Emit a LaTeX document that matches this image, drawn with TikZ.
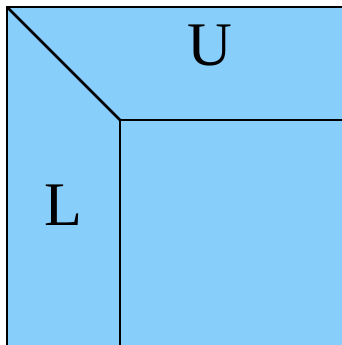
\documentclass[tikz,border=0pt]{standalone}
\usepackage{fontspec}
\setmainfont{Liberation Serif}
\usepackage{tikz}
\usepackage{xcolor}
\definecolor{SkyFill}{HTML}{87CEFA}

\begin{document}
\begin{tikzpicture}[x=1pt, y=-1pt, line width=2.5pt]
        \useasboundingbox (0,0) rectangle (342,345);

        % Matrix block
        \fill[SkyFill] (7,7) rectangle (342,345);
        \draw (7,345) -- (7,7) -- (342,7);

        % Split into L and U
        \coordinate (corner) at (7,7);
        \coordinate (pivot) at (120,120);
        \draw (corner) -- (pivot);
        \draw (pivot) -- (342,120);
        \draw (pivot) -- (120,345);

        % Labels
        \node[anchor=base, inner sep=0pt, font=\fontsize{62}{62}\selectfont] (upper) at (210,66) {U};
        \node[anchor=base, inner sep=0pt, font=\fontsize{62}{62}\selectfont] (lower) at (63,225) {L};

    \end{tikzpicture}
\end{document}
